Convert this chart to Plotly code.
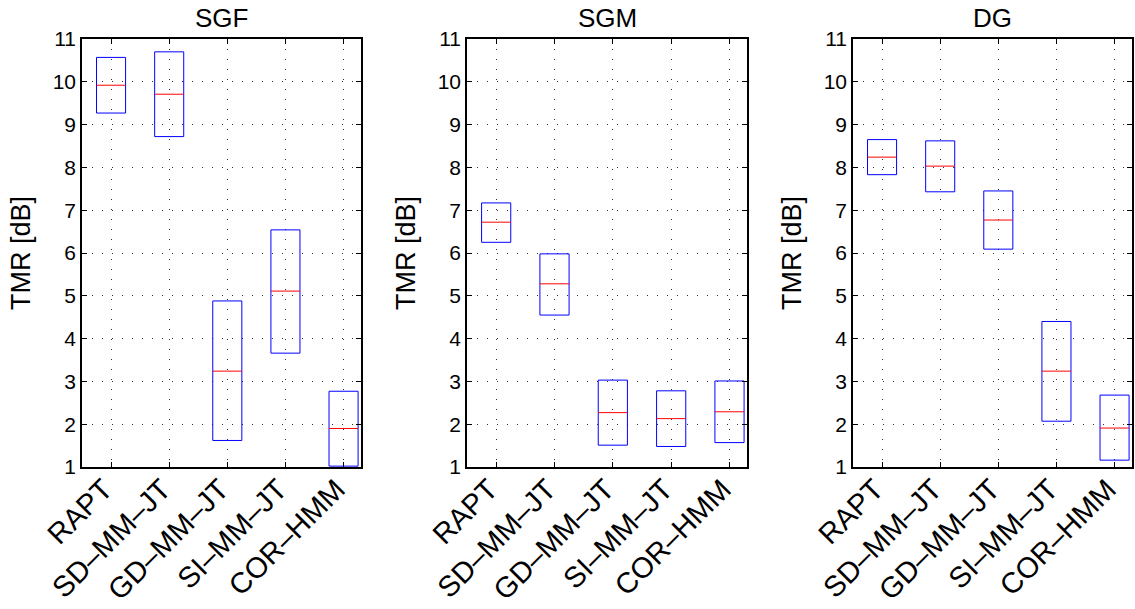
import plotly.graph_objects as go

methods = ["RAPT", "SD–MM–JT", "GD–MM–JT", "SI–MM–JT", "COR–HMM"]
panels = ["SGF", "SGM", "DG"]

sgf_q1 = [9.27, 8.72, 1.62, 3.66, 1.02]
sgf_med = [9.92, 9.71, 3.24, 5.11, 1.90]
sgf_q3 = [10.57, 10.70, 4.88, 6.54, 2.77]

sgm_q1 = [6.25, 4.55, 1.51, 1.48, 1.57]
sgm_med = [6.72, 5.28, 2.27, 2.13, 2.29]
sgm_q3 = [7.17, 5.98, 3.03, 2.78, 3.01]

dg_q1 = [7.83, 7.43, 6.09, 2.07, 1.16]
dg_med = [8.24, 8.03, 6.77, 3.24, 1.91]
dg_q3 = [8.65, 8.62, 7.45, 4.40, 2.68]

data = [(sgf_q1, sgf_med, sgf_q3), (sgm_q1, sgm_med, sgm_q3), (dg_q1, dg_med, dg_q3)]
yticks = list(range(1, 12))

W, H = 1135, 609
x_px = [(82, 361), (467, 747), (853, 1132)]
y_top, y_bot = 39, 467
ydom = [(H - y_bot) / H, (H - y_top) / H]
font = "Liberation Sans, Arial, Helvetica, sans-serif"
box_w = 0.5

fig = go.Figure()
positions = list(range(1, len(methods) + 1))

for k, (q1, med, q3) in enumerate(data):
    xa = "x" if k == 0 else f"x{k+1}"
    ya = "y" if k == 0 else f"y{k+1}"
    bx, by, mx, my = [], [], [], []
    for p, a, m, b in zip(positions, q1, med, q3):
        l, r = p - box_w / 2, p + box_w / 2
        bx += [l, r, r, l, l, None]
        by += [a, a, b, b, a, None]
        mx += [l, r, None]
        my += [m, m, None]
    fig.add_trace(go.Scatter(x=bx, y=by, mode="lines",
                             line=dict(color="#0000ff", width=1),
                             xaxis=xa, yaxis=ya, showlegend=False, hoverinfo="skip"))
    fig.add_trace(go.Scatter(x=mx, y=my, mode="lines",
                             line=dict(color="#ff0000", width=1),
                             xaxis=xa, yaxis=ya, showlegend=False, hoverinfo="skip"))

layout = dict(
    width=W, height=H, margin=dict(l=0, r=0, t=0, b=0, autoexpand=False),
    paper_bgcolor="white", plot_bgcolor="white",
    font=dict(family=font, size=20, color="black"),
    annotations=[],
)
for k in range(3):
    suffix = "" if k == 0 else str(k + 1)
    x0, x1 = x_px[k]
    layout["xaxis" + suffix] = dict(
        domain=[x0 / W, x1 / W], range=[0.5, 5.3], anchor="y" + suffix,
        tickmode="array", tickvals=positions, ticktext=methods, tickangle=-45,
        ticks="inside", ticklen=5, tickcolor="black", tickwidth=1,
        showline=True, linecolor="black", linewidth=1.5, mirror="ticks",
        showgrid=True, gridcolor="#333333", gridwidth=1, griddash="1px,9px",
        zeroline=False, automargin=False,
        ticklabelstandoff=-8, ticklabelshift=-7,
        tickfont=dict(size=29, family=font, color="black"),
    )
    layout["yaxis" + suffix] = dict(
        domain=ydom, range=[1, 11], anchor="x" + suffix,
        tickmode="array", tickvals=yticks, ticktext=[str(v) for v in yticks],
        ticks="inside", ticklen=5, tickcolor="black", tickwidth=1,
        showline=True, linecolor="black", linewidth=1.5, mirror="ticks",
        showgrid=True, gridcolor="#333333", gridwidth=1, griddash="1px,9px",
        zeroline=False, automargin=False,
        tickfont=dict(size=21, family=font, color="black"),
    )
    layout["annotations"].append(dict(
        text=panels[k], x=(x0 + x1) / 2 / W, y=(H - 18) / H, xref="paper", yref="paper",
        xanchor="center", yanchor="middle", showarrow=False,
        font=dict(size=26, family=font, color="black")))
    layout["annotations"].append(dict(
        text="TMR [dB]", x=(x0 - 61) / W, y=(H - (y_top + y_bot) / 2) / H,
        xref="paper", yref="paper", textangle=-90,
        xanchor="center", yanchor="middle", showarrow=False,
        font=dict(size=27, family=font, color="black")))

fig.update_layout(**layout)
fig.write_html("out.html")
